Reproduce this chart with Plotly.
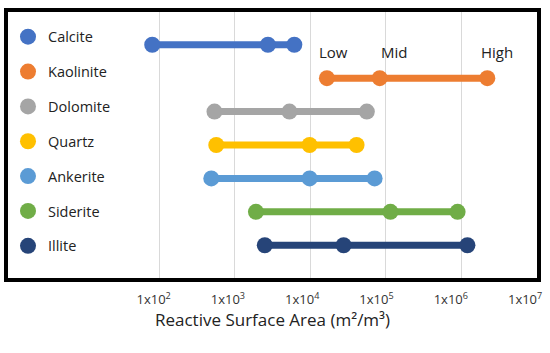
import math
import plotly.graph_objects as go

minerals = ["Calcite", "Kaolinite", "Dolomite", "Quartz", "Ankerite", "Siderite", "Illite"]
low = [81, 16600, 540, 570, 490, 1910, 2500]
mid = [2750, 83000, 5300, 9800, 9800, 115000, 27600]
high = [6150, 2200000, 56000, 41000, 71000, 890000, 1200000]
colors = ["#4472C4", "#ED7D31", "#A5A5A5", "#FFC000", "#5B9BD5", "#70AD47", "#264478"]

tick_vals = [1e2, 1e3, 1e4, 1e5, 1e6, 1e7]
tick_text = ["1x10<sup>2</sup>", "1x10<sup>3</sup>", "1x10<sup>4</sup>",
             "1x10<sup>5</sup>", "1x10<sup>6</sup>", "1x10<sup>7</sup>"]
level_labels = ["Low", "Mid", "High"]
label_mineral = "Kaolinite"

FONT = "Open Sans"

fig = go.Figure()
for i, m in enumerate(minerals):
    xs = [low[i], mid[i], high[i]]
    fig.add_trace(go.Scatter(
        x=xs, y=[m] * 3, mode="lines", line=dict(color=colors[i], width=7),
        showlegend=False, legendgroup=m, hoverinfo="skip"))
    fig.add_trace(go.Scatter(
        x=xs, y=[m] * 3, mode="markers", name=m, legendgroup=m,
        marker=dict(color=colors[i], size=16)))

# invisible trace so the label axis is drawn
fig.add_trace(go.Scatter(x=[None], y=[None], xaxis="x2", showlegend=False, hoverinfo="skip"))

k = minerals.index(label_mineral)
shifts = [7, 14, 10]
for j, lab in enumerate(level_labels):
    fig.add_annotation(x=math.log10([low[k], mid[k], high[k]][j]), y=label_mineral,
                       xref="x", yref="y",
                       text=lab, showarrow=False, yshift=26, xshift=shifts[j],
                       font=dict(family=FONT, size=15, color="#222"))

fig.update_layout(
    width=550, height=353,
    margin=dict(l=8, r=8, t=9, b=75),
    paper_bgcolor="white", plot_bgcolor="white",
    font=dict(family=FONT, color="#222"),
    legend=dict(x=0, y=0.967, xanchor="left", yanchor="top",
                font=dict(family=FONT, size=14.5, color="#222"),
                tracegroupgap=13, itemsizing="trace", bgcolor="rgba(0,0,0,0)",
                traceorder="grouped"),
    xaxis=dict(type="log", range=[0, 7], tickvals=tick_vals, showticklabels=False,
               showgrid=True, gridcolor="#d9d9d9", gridwidth=1,
               showline=True, mirror=True, linecolor="black", linewidth=4,
               ticks="", zeroline=False),
    xaxis2=dict(type="log", range=[0.04, 7.16], overlaying="x", anchor="y", side="bottom",
                tickvals=tick_vals, ticktext=tick_text, showgrid=False, showline=False,
                ticks="", zeroline=False, ticklabelstandoff=12,
                tickfont=dict(family=FONT, size=13, color="#333"),
                title=dict(text="Reactive Surface Area (m²/m³)", standoff=6,
                           font=dict(family=FONT, size=17, color="#222"))),
    yaxis=dict(type="category", categoryorder="array", categoryarray=minerals,
               range=[6.98, -0.98], showticklabels=False, showgrid=False,
               showline=True, mirror=True, linecolor="black", linewidth=4,
               ticks="", zeroline=False),
)
fig.write_html("out.html", config={"displayModeBar": False},
               post_script="document.body.style.margin='0';document.body.style.padding='0';")
